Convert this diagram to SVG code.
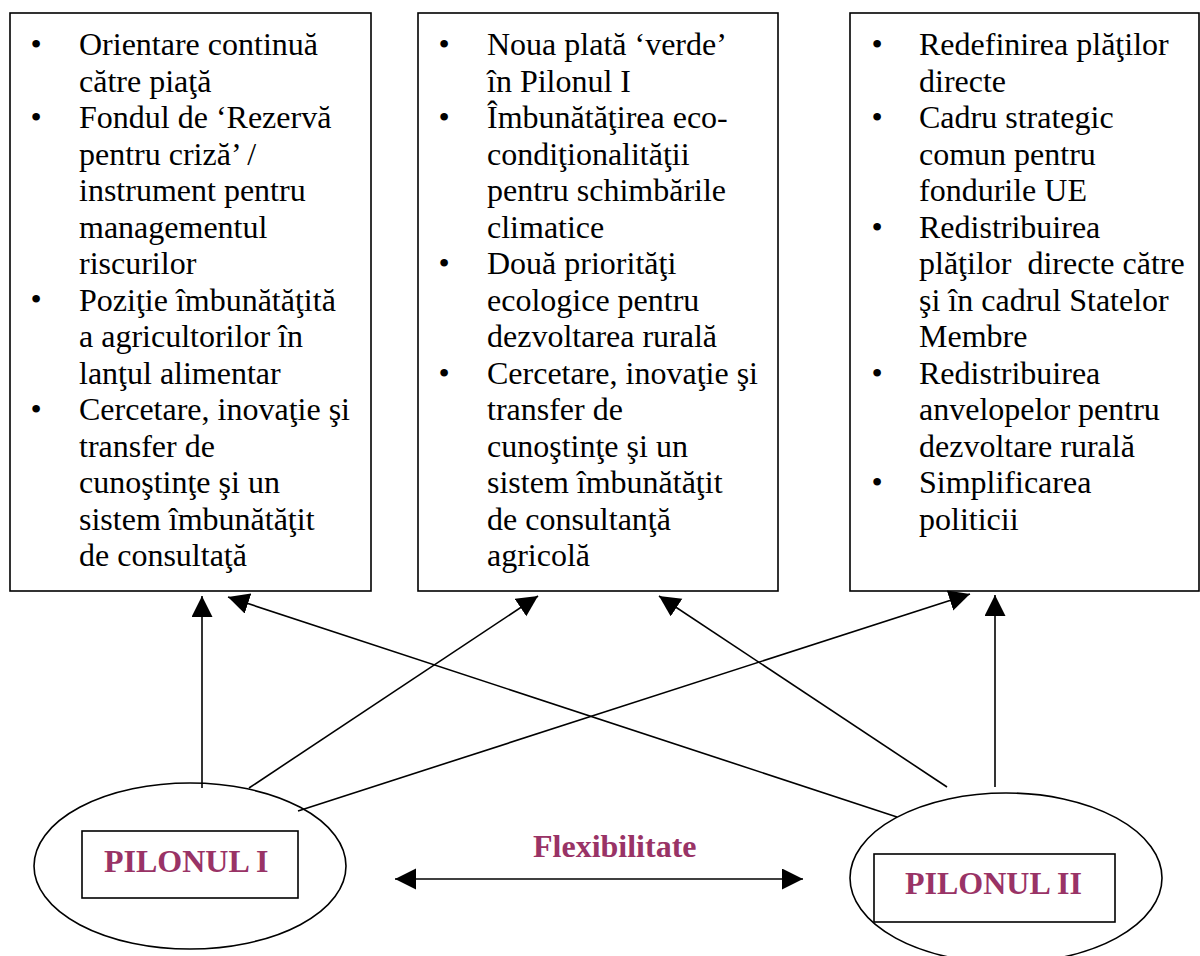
<svg xmlns="http://www.w3.org/2000/svg" width="1200" height="956" viewBox="0 0 1200 956">
<style>
.box{fill:#fff;stroke:#000;stroke-width:1.6}
.t{font-family:"Liberation Serif","Times New Roman",serif;font-size:32px;fill:#000}
.b{font-family:"Liberation Serif","Times New Roman",serif;font-size:32px;fill:#000;text-anchor:middle}
.lab{font-family:"Liberation Serif","Times New Roman",serif;font-size:32px;font-weight:bold;fill:#993366}
.ln{stroke:#000;stroke-width:1.6;fill:none}
</style>
<defs>
<marker id="ah" markerUnits="userSpaceOnUse" markerWidth="22" markerHeight="22" viewBox="0 0 22 22" refX="21" refY="10.5" orient="auto-start-reverse">
<path d="M0,0 L21,10.5 L0,21 z" fill="#000"/>
</marker>
</defs>
<rect width="1200" height="956" fill="#fff"/>
<g id="box1">
<rect class="box" x="10" y="13" width="361" height="578"/>
<text class="b" x="36"><tspan x="36" y="55">•</tspan><tspan x="36" y="128">•</tspan><tspan x="36" y="310">•</tspan><tspan x="36" y="420">•</tspan></text>
<text class="t">
<tspan x="79" y="55">Orientare continuă</tspan>
<tspan x="79" y="91.5">către piaţă</tspan>
<tspan x="79" y="128">Fondul de ‘Rezervă</tspan>
<tspan x="79" y="164.5">pentru criză’ /</tspan>
<tspan x="79" y="201">instrument pentru</tspan>
<tspan x="79" y="237.5">managementul</tspan>
<tspan x="79" y="274">riscurilor</tspan>
<tspan x="79" y="310.5">Poziţie îmbunătăţită</tspan>
<tspan x="79" y="347">a agricultorilor în</tspan>
<tspan x="79" y="383.5">lanţul alimentar</tspan>
<tspan x="79" y="420">Cercetare, inovaţie şi</tspan>
<tspan x="79" y="456.5">transfer de</tspan>
<tspan x="79" y="493">cunoştinţe şi un</tspan>
<tspan x="79" y="529.5">sistem îmbunătăţit</tspan>
<tspan x="79" y="566">de consultaţă</tspan>
</text>
</g>
<g id="box2">
<rect class="box" x="418" y="13" width="360" height="578"/>
<text class="b"><tspan x="444" y="55">•</tspan><tspan x="444" y="128">•</tspan><tspan x="444" y="274">•</tspan><tspan x="444" y="383.5">•</tspan></text>
<text class="t">
<tspan x="487" y="55">Noua plată ‘verde’</tspan>
<tspan x="487" y="91.5">în Pilonul I</tspan>
<tspan x="487" y="128">Îmbunătăţirea eco-</tspan>
<tspan x="487" y="164.5">condiţionalităţii</tspan>
<tspan x="487" y="201">pentru schimbările</tspan>
<tspan x="487" y="237.5">climatice</tspan>
<tspan x="487" y="274">Două priorităţi</tspan>
<tspan x="487" y="310.5">ecologice pentru</tspan>
<tspan x="487" y="347">dezvoltarea rurală</tspan>
<tspan x="487" y="383.5">Cercetare, inovaţie şi</tspan>
<tspan x="487" y="420">transfer de</tspan>
<tspan x="487" y="456.5">cunoştinţe şi un</tspan>
<tspan x="487" y="493">sistem îmbunătăţit</tspan>
<tspan x="487" y="529.5">de consultanţă</tspan>
<tspan x="487" y="566">agricolă</tspan>
</text>
</g>
<g id="box3">
<rect class="box" x="850" y="13" width="349" height="578"/>
<text class="b"><tspan x="877" y="55">•</tspan><tspan x="877" y="128">•</tspan><tspan x="877" y="237.5">•</tspan><tspan x="877" y="383.5">•</tspan><tspan x="877" y="493">•</tspan></text>
<text class="t" style="white-space:pre">
<tspan x="919" y="55">Redefinirea plăţilor</tspan>
<tspan x="919" y="91.5">directe</tspan>
<tspan x="919" y="128">Cadru strategic</tspan>
<tspan x="919" y="164.5">comun pentru</tspan>
<tspan x="919" y="201">fondurile UE</tspan>
<tspan x="919" y="237.5">Redistribuirea</tspan>
<tspan x="919" y="274">plăţilor  directe către</tspan>
<tspan x="919" y="310.5">şi în cadrul Statelor</tspan>
<tspan x="919" y="347">Membre</tspan>
<tspan x="919" y="383.5">Redistribuirea</tspan>
<tspan x="919" y="420">anvelopelor pentru</tspan>
<tspan x="919" y="456.5">dezvoltare rurală</tspan>
<tspan x="919" y="493">Simplificarea</tspan>
<tspan x="919" y="529.5">politicii</tspan>
</text>
</g>
<g id="pilon1">
<ellipse class="box" cx="190" cy="866" rx="156" ry="83"/>
<rect class="box" x="82" y="831" width="216" height="67"/>
<text class="lab" x="104" y="872">PILONUL I</text>
</g>
<g id="pilon2">
<ellipse class="box" cx="1006" cy="878" rx="156" ry="85"/>
<rect class="box" x="874" y="854" width="241" height="68"/>
<text class="lab" x="905" y="894">PILONUL II</text>
</g>
<g id="connectors">
<line class="ln" x1="202" y1="788" x2="202" y2="596" marker-end="url(#ah)"/>
<line class="ln" x1="249" y1="788" x2="538" y2="596" marker-end="url(#ah)"/>
<line class="ln" x1="298" y1="811" x2="970" y2="594" marker-end="url(#ah)"/>
<line class="ln" x1="897" y1="817" x2="228" y2="597" marker-end="url(#ah)"/>
<line class="ln" x1="947" y1="787" x2="659" y2="596" marker-end="url(#ah)"/>
<line class="ln" x1="995" y1="787" x2="995" y2="595" marker-end="url(#ah)"/>
<line class="ln" x1="395" y1="879" x2="803" y2="879" marker-start="url(#ah)" marker-end="url(#ah)"/>
<text class="lab" x="533" y="857">Flexibilitate</text>
</g>
</svg>
